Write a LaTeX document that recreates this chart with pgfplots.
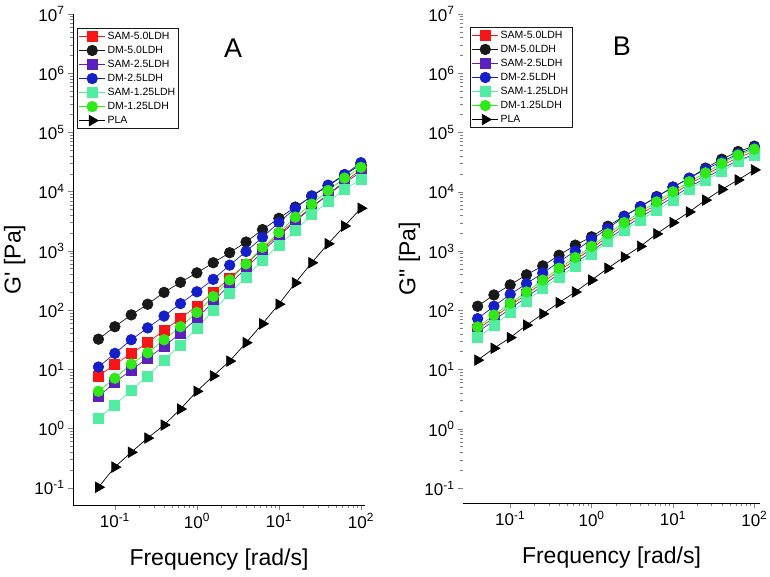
\documentclass[border=0pt]{standalone}
\usepackage{fontspec}
\setmainfont{Liberation Sans}
\usepackage{pgfplots}
\pgfplotsset{compat=1.18}

\definecolor{cred}{RGB}{250,20,20}
\definecolor{cblack}{RGB}{25,25,25}
\definecolor{cpurple}{RGB}{90,30,195}
\definecolor{cblue}{RGB}{20,30,205}
\definecolor{cmint}{RGB}{80,238,160}
\definecolor{cgreen}{RGB}{45,235,20}

\tikzset{
  sam5/.style={color=cred, mark=square*, mark size=5pt},
  dm5/.style={color=cblack, mark=*, mark size=5.3pt},
  sam25/.style={color=cpurple, mark=square*, mark size=5pt},
  dm25/.style={color=cblue, mark=*, mark size=5.3pt},
  sam125/.style={color=cmint, mark=square*, mark size=5pt},
  dm125/.style={color=cgreen, mark=*, mark size=5.3pt},
  pla/.style={color=black, mark=triangle*, mark size=6pt, mark options={rotate=-90}},
}
\pgfplotsset{
  every axis plot/.append style={line width=0.7pt},
  legend image code/.code={\draw[mark repeat=2,mark phase=2] plot coordinates {(0pt,0pt)(13pt,0pt)(26pt,0pt)};},
}

\begin{document}
\begin{tikzpicture}
\path[use as bounding box] (0,0) rectangle (770pt,576pt);

% ---- panel A : G'
\begin{axis}[
  xmode=log, ymode=log, scale only axis,
  axis lines=left, axis line style={-, line width=0.8pt},
  tick align=outside, major tick length=5pt, minor tick length=3pt,
  tick style={line width=0.6pt},
  ytick={1e-1,1,10,100,1e3,1e4,1e5,1e6,1e7},
  yticklabels={10\textsuperscript{-1},10\textsuperscript{0},10\textsuperscript{1},10\textsuperscript{2},10\textsuperscript{3},10\textsuperscript{4},10\textsuperscript{5},10\textsuperscript{6},10\textsuperscript{7}},
  xtick={0.1,1,10,100},
  xticklabels={10\textsuperscript{-1},10\textsuperscript{0},10\textsuperscript{1},10\textsuperscript{2}},
  tick label style={font=\fontsize{17}{17}\selectfont},
  label style={font=\fontsize{23}{23}\selectfont},
  xlabel={Frequency [rad/s]},
  xlabel style={at={(axis description cs:0.5,-0.082)}, anchor=north},
  legend cell align=left,
  legend style={draw=cblack, line width=0.6pt, font=\fontsize{10.5}{12}\selectfont,
    inner sep=1.5pt, row sep=1.2pt, anchor=north west, at={(0.014,0.971)}},
  at={(73pt,71pt)}, anchor=south west,
  width=292pt, height=491pt,
  xmin=0.0309, xmax=112.2, ymin=0.0513, ymax=1e7,
  ylabel={G\textquotesingle{} [Pa]},
  ylabel style={at={(axis description cs:-0.2,0.5)}, anchor=center},
]
\addplot[sam5] coordinates {
  (0.0631,7.762) (0.1,12.02) (0.1585,18.62) (0.2512,28.18) (0.3981,45.71) (0.631,72.44)
  (1,117.5) (1.585,199.5) (2.512,346.7) (3.981,602.6) (6.31,1072) (10,1905)
  (15.85,3311) (25.12,5495) (39.81,9120) (63.1,14790) (100,23440)};
\addlegendentry{SAM-5.0LDH}
\addplot[dm5] coordinates {
  (0.0631,32.36) (0.1,52.48) (0.1585,83.18) (0.2512,125.9) (0.3981,199.5) (0.631,295.1)
  (1,426.6) (1.585,631.0) (2.512,933.3) (3.981,1413) (6.31,2291) (10,3548)
  (15.85,5495) (25.12,8318) (39.81,12590) (63.1,19050) (100,28840)};
\addlegendentry{DM-5.0LDH}
\addplot[sam25] coordinates {
  (0.0631,3.467) (0.1,6.026) (0.1585,9.772) (0.2512,15.49) (0.3981,24.55) (0.631,40.74)
  (1,72.44) (1.585,138.0) (2.512,275.4) (3.981,512.9) (6.31,977.2) (10,1778)
  (15.85,3162) (25.12,5370) (39.81,8913) (63.1,14130) (100,21380)};
\addlegendentry{SAM-2.5LDH}
\addplot[dm25] coordinates {
  (0.0631,10.96) (0.1,18.62) (0.1585,31.62) (0.2512,50.12) (0.3981,79.43) (0.631,128.8)
  (1,204.2) (1.585,331.1) (2.512,575.4) (3.981,977.2) (6.31,1698) (10,3020)
  (15.85,5248) (25.12,8511) (39.81,12880) (63.1,19500) (100,30900)};
\addlegendentry{DM-2.5LDH}
\addplot[sam125] coordinates {
  (0.0631,1.514) (0.1,2.512) (0.1585,4.467) (0.2512,7.762) (0.3981,14.45) (0.631,25.70)
  (1,50.12) (1.585,97.72) (2.512,190.5) (3.981,363.1) (6.31,691.8) (10,1259)
  (15.85,2188) (25.12,4074) (39.81,6761) (63.1,10960) (100,16220)};
\addlegendentry{SAM-1.25LDH}
\addplot[dm125] coordinates {
  (0.0631,4.266) (0.1,7.079) (0.1585,12.30) (0.2512,19.05) (0.3981,31.62) (0.631,52.48)
  (1,91.20) (1.585,169.8) (2.512,323.6) (3.981,602.6) (6.31,1148) (10,2042)
  (15.85,3715) (25.12,6166) (39.81,10470) (63.1,16980) (100,25700)};
\addlegendentry{DM-1.25LDH}
\addplot[pla] coordinates {
  (0.0631,0.1023) (0.1,0.2239) (0.1585,0.3981) (0.2512,0.6918) (0.3981,1.148) (0.631,2.138)
  (1,4.266) (1.585,7.762) (2.512,13.80) (3.981,28.18) (6.31,58.88) (10,125.9)
  (15.85,288.4) (25.12,631.0) (39.81,1318) (63.1,2630) (100,5248)};
\addlegendentry{PLA}
\node[font=\fontsize{27}{27}\selectfont] at (rel axis cs:0.548,0.93) {A};
\end{axis}

% ---- panel B : G''
\begin{axis}[
  xmode=log, ymode=log, scale only axis,
  axis lines=left, axis line style={-, line width=0.8pt},
  y axis line style={draw=none},
  tick align=outside, major tick length=5pt, minor tick length=3pt,
  tick style={line width=0.6pt},
  ytick={1e-1,1,10,100,1e3,1e4,1e5,1e6,1e7},
  yticklabels={10\textsuperscript{-1},10\textsuperscript{0},10\textsuperscript{1},10\textsuperscript{2},10\textsuperscript{3},10\textsuperscript{4},10\textsuperscript{5},10\textsuperscript{6},10\textsuperscript{7}},
  xtick={0.1,1,10,100},
  xticklabels={10\textsuperscript{-1},10\textsuperscript{0},10\textsuperscript{1},10\textsuperscript{2}},
  tick label style={font=\fontsize{17}{17}\selectfont},
  label style={font=\fontsize{23}{23}\selectfont},
  xlabel={Frequency [rad/s]},
  xlabel style={at={(axis description cs:0.5,-0.082)}, anchor=north},
  legend cell align=left,
  legend style={draw=cblack, line width=0.6pt, font=\fontsize{10.5}{12}\selectfont,
    inner sep=1.5pt, row sep=1.2pt, anchor=north west, at={(0.024,0.973)}},
  at={(463pt,73pt)}, anchor=south west,
  width=297pt, height=489pt,
  xmin=0.0263, xmax=117.5, ymin=0.0562, ymax=1e7,
  ylabel={G\textquotedbl{} [Pa]},
  ylabel style={at={(axis description cs:-0.18,0.5)}, anchor=center},
]
\addplot[sam5] coordinates {
  (0.0398,47.86) (0.0631,75.86) (0.1,120.2) (0.1585,186.2) (0.2512,295.1) (0.3981,467.7)
  (0.631,707.9) (1,1096) (1.585,1778) (2.512,2754) (3.981,4169) (6.31,6166)
  (10,9120) (15.85,13490) (25.12,19050) (39.81,27540) (63.1,38020) (100,47860)};
\addlegendentry{SAM-5.0LDH}
\addplot[dm5] coordinates {
  (0.0398,117.5) (0.0631,182.0) (0.1,269.2) (0.1585,398.1) (0.2512,562.3) (0.3981,851.1)
  (0.631,1259) (1,1738) (1.585,2630) (2.512,3890) (3.981,5623) (6.31,8318)
  (10,12020) (15.85,16980) (25.12,25120) (39.81,35480) (63.1,47860) (100,58880)};
\addlegendentry{DM-5.0LDH}
\addplot[sam25] coordinates {
  (0.0398,42.66) (0.0631,67.61) (0.1,107.2) (0.1585,166.0) (0.2512,263.0) (0.3981,416.9)
  (0.631,631.0) (1,977.2) (1.585,1585) (2.512,2455) (3.981,3715) (6.31,5495)
  (10,8128) (15.85,12020) (25.12,16980) (39.81,24550) (63.1,33880) (100,42660)};
\addlegendentry{SAM-2.5LDH}
\addplot[dm25] coordinates {
  (0.0398,72.44) (0.0631,117.5) (0.1,186.2) (0.1585,281.8) (0.2512,426.6) (0.3981,660.7)
  (0.631,1000) (1,1585) (1.585,2399) (2.512,3802) (3.981,5623) (6.31,8128)
  (10,12020) (15.85,16980) (25.12,23990) (39.81,32360) (63.1,43650) (100,56230)};
\addlegendentry{DM-2.5LDH}
\addplot[sam125] coordinates {
  (0.0398,34.67) (0.0631,56.23) (0.1,91.20) (0.1585,144.5) (0.2512,234.4) (0.3981,363.1)
  (0.631,562.3) (1,891.3) (1.585,1445) (2.512,2239) (3.981,3311) (6.31,4898)
  (10,7244) (15.85,10960) (25.12,15850) (39.81,21880) (63.1,32360) (100,41690)};
\addlegendentry{SAM-1.25LDH}
\addplot[dm125] coordinates {
  (0.0398,52.48) (0.0631,83.18) (0.1,131.8) (0.1585,204.2) (0.2512,323.6) (0.3981,512.9)
  (0.631,776.2) (1,1202) (1.585,1950) (2.512,3020) (3.981,4571) (6.31,6761)
  (10,10000) (15.85,14790) (25.12,20890) (39.81,30200) (63.1,41690) (100,52480)};
\addlegendentry{DM-1.25LDH}
\addplot[pla] coordinates {
  (0.0398,14.45) (0.0631,22.91) (0.1,34.67) (0.1585,56.23) (0.2512,87.10) (0.3981,134.9)
  (0.631,204.2) (1,323.6) (1.585,512.9) (2.512,794.3) (3.981,1202) (6.31,1950)
  (10,3020) (15.85,4571) (25.12,7244) (39.81,10960) (63.1,15850) (100,23440)};
\addlegendentry{PLA}
\node[font=\fontsize{27}{27}\selectfont] at (rel axis cs:0.535,0.935) {B};
\end{axis}
\end{tikzpicture}
\end{document}
